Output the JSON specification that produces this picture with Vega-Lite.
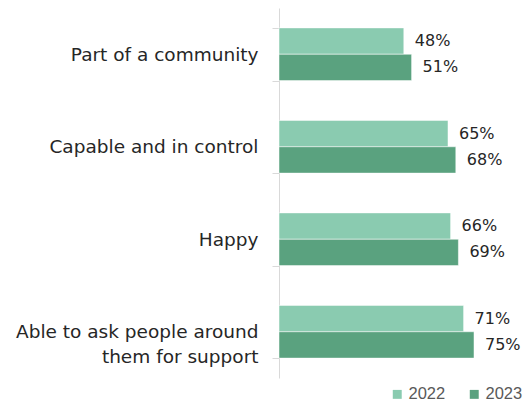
{
  "$schema": "https://vega.github.io/schema/vega-lite/v6.json",
  "autosize": "none",
  "width": 247,
  "height": 370,
  "padding": {"left": 279, "top": 8, "right": 0, "bottom": 27},
  "background": "white",
  "config": {"view": {"stroke": null}, "font": "DejaVu Sans"},
  "data": {"values": [
    {"item": "Part of a community", "year": "2022", "value": 48},
    {"item": "Part of a community", "year": "2023", "value": 51},
    {"item": "Capable and in control", "year": "2022", "value": 65},
    {"item": "Capable and in control", "year": "2023", "value": 68},
    {"item": "Happy", "year": "2022", "value": 66},
    {"item": "Happy", "year": "2023", "value": 69},
    {"item": "Able to ask people around them for support", "year": "2022", "value": 71},
    {"item": "Able to ask people around them for support", "year": "2023", "value": 75}
  ]},
  "encoding": {
    "y": {
      "field": "item", "type": "nominal", "sort": null, "title": null,
      "scale": {"paddingInner": 0.43, "paddingOuter": 0.215},
      "axis": {
        "tickBand": "extent", "tickSize": 7, "tickColor": "#d9d9d9", "domainColor": "#d9d9d9",
        "labelPadding": 14, "labelFontSize": 18.5, "labelColor": "#262626", "labelLimit": 300,
        "labelLineHeight": 25,
        "labelExpr": "datum.value == 'Able to ask people around them for support' ? ['Able to ask people around', 'them for support'] : datum.value"
      }
    },
    "yOffset": {"field": "year", "type": "nominal", "scale": {"paddingInner": 0}},
    "x": {"field": "value", "type": "quantitative", "scale": {"domain": [0, 95]}, "axis": null}
  },
  "layer": [
    {
      "mark": {"type": "bar", "stroke": "white", "strokeWidth": 0.5},
      "encoding": {
        "color": {
          "field": "year", "type": "nominal", "title": null,
          "scale": {"domain": ["2022", "2023"], "range": ["#8acbb0", "#5aa27f"]},
          "legend": {
            "orient": "none", "direction": "horizontal", "legendX": 110, "legendY": 378,
            "symbolType": "square", "symbolSize": 80, "symbolStrokeWidth": 0,
            "labelFont": "Liberation Sans", "labelFontSize": 16.5, "labelColor": "#595959",
            "columnPadding": 20, "labelOffset": 3
          }
        }
      }
    },
    {
      "mark": {"type": "text", "align": "left", "dx": 11, "fontSize": 16, "color": "#262626", "text": {"expr": "datum.value + '%'"}},
      "encoding": {}
    }
  ]
}
